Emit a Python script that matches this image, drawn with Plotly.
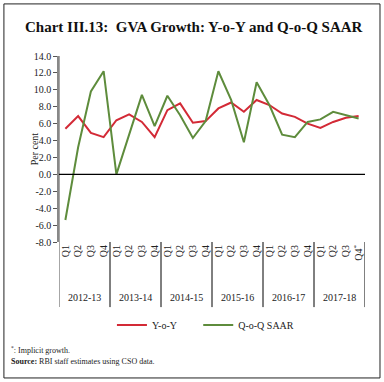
import plotly.graph_objects as go

quarters = ["Q1", "Q2", "Q3", "Q4"] * 6
quarters[-1] = "Q4<sup>*</sup>"
years = ["2012-13", "2013-14", "2014-15", "2015-16", "2016-17", "2017-18"]
yoy = [5.4, 6.9, 4.9, 4.4, 6.4, 7.1, 6.2, 4.4, 7.6, 8.4, 6.1, 6.3,
       7.8, 8.5, 7.4, 8.8, 8.2, 7.2, 6.8, 6.0, 5.5, 6.2, 6.7, 6.9]
qoq = [-5.4, 3.2, 9.8, 12.2, 0.0, 4.7, 9.4, 5.7, 9.3, 7.0, 4.3, 6.3,
       12.2, 8.8, 3.8, 10.9, 8.2, 4.7, 4.4, 6.2, 6.5, 7.4, 7.0, 6.6]
yticks = [-8, -6, -4, -2, 0, 2, 4, 6, 8, 10, 12, 14]

xs = list(range(len(yoy)))
FONT = "Liberation Serif"
RED = "#d32a36"
GREEN = "#5e8c3c"

fig = go.Figure()
fig.add_trace(go.Scatter(x=xs, y=yoy, mode="lines", name="Y-o-Y", legend="legend",
                         line=dict(color=RED, width=2)))
fig.add_trace(go.Scatter(x=xs, y=qoq, mode="lines", name="Q-o-Q SAAR", legend="legend2",
                         line=dict(color=GREEN, width=2)))

shapes = []
shapes.append(dict(type="line", xref="x", yref="paper", x0=-0.5, x1=-0.5,
                   y0=-0.35, y1=1, line=dict(color="#888888", width=1.5)))
for k in range(1, 7):
    shapes.append(dict(type="line", xref="x", yref="paper", x0=4 * k - 0.5, x1=4 * k - 0.5,
                       y0=-0.35, y1=0, line=dict(color="#000000", width=1)))
shapes.append(dict(type="line", xref="x", yref="y", x0=-0.5, x1=23.5, y0=0, y1=0,
                   line=dict(color="#000000", width=1.2)))
shapes.append(dict(type="rect", xref="paper", yref="paper", x0=-0.18, x1=1.049,
                   y0=-0.731, y1=1.28, line=dict(color="#222222", width=1)))

annotations = []
for i, yr in enumerate(years):
    annotations.append(dict(x=4 * i + 1.5, y=-0.296, xref="x", yref="paper", text=yr,
                            showarrow=False, font=dict(family=FONT, size=10, color="#222"),
                            yanchor="middle"))
annotations.append(dict(x=0.44, xref="paper", y=1.156, yref="paper",
                        text="<b>Chart III.13:  GVA Growth: Y-o-Y and Q-o-Q SAAR</b>",
                        showarrow=False, font=dict(family=FONT, size=15, color="#111"),
                        yanchor="middle", xanchor="center"))
annotations.append(dict(x=-0.105, xref="paper", y=0.5, yref="paper",
                        text="Per cent", textangle=-90, showarrow=False,
                        font=dict(family=FONT, size=10, color="#222")))
annotations.append(dict(x=-0.165, xref="paper", y=-0.58, yref="paper", xanchor="left",
                        text="<sup>*</sup>: Implicit growth.", showarrow=False,
                        font=dict(family=FONT, size=8, color="#222"), yanchor="middle"))
annotations.append(dict(x=-0.165, xref="paper", y=-0.642, yref="paper", xanchor="left",
                        text="<b>Source:</b> RBI staff estimates using CSO data.", showarrow=False,
                        font=dict(family=FONT, size=8, color="#222"), yanchor="middle"))

leg_common = dict(orientation="h", xanchor="left", y=-0.446, yanchor="middle",
                  font=dict(family=FONT, size=10, color="#222"), itemwidth=30,
                  bgcolor="rgba(0,0,0,0)")

fig.update_layout(
    width=384, height=382,
    margin=dict(l=59, r=19, t=56, b=140, autoexpand=False),
    paper_bgcolor="white", plot_bgcolor="white",
    font=dict(family=FONT, size=10, color="#222"),
    showlegend=True,
    legend=dict(x=0.173, **leg_common),
    legend2=dict(x=0.455, **leg_common),
    shapes=shapes,
    annotations=annotations,
    xaxis=dict(range=[-0.5, 23.5], tickmode="array", tickvals=xs, ticktext=quarters,
               tickangle=-90, showgrid=False, zeroline=False, showline=False,
               automargin=False,
               ticks="", tickfont=dict(family=FONT, size=10, color="#222")),
    yaxis=dict(range=[-8, 14], tickmode="array", tickvals=yticks, automargin=False,
               ticktext=[f"{v:.1f}" for v in yticks], showgrid=False, zeroline=False,
               showline=True, linecolor="#888888", linewidth=1.5, ticks="outside",
               ticklen=4, tickcolor="#555", tickfont=dict(family=FONT, size=10, color="#222")),
)

fig.write_html("out.html", config={"displayModeBar": False},
               post_script="document.body.style.margin='0';")
